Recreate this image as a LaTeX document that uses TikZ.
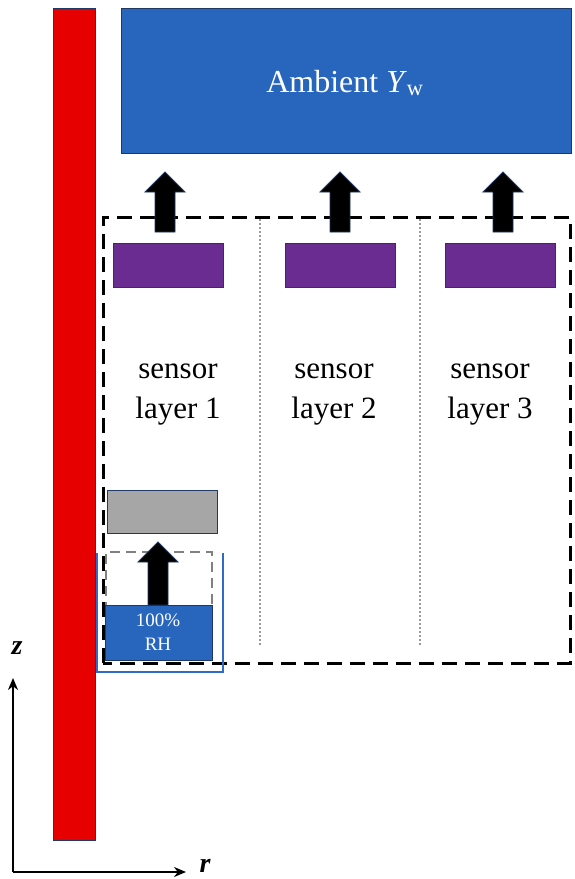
\documentclass[tikz,border=0pt]{standalone}
\usepackage{fontspec}
\setmainfont{Liberation Serif}
\usetikzlibrary{arrows.meta}
\definecolor{boxblue}{RGB}{40,102,190}
\definecolor{navy}{RGB}{31,56,100}
\definecolor{purp}{RGB}{106,44,145}
\definecolor{wallred}{RGB}{230,0,0}
\definecolor{lightgray}{RGB}{166,166,166}
\definecolor{cupblue}{RGB}{46,107,198}
\tikzset{
  blockbox/.style={draw=navy, line width=1.2pt, inner sep=0pt, minimum width=#1},
  sensorbox/.style={blockbox=110pt, fill=purp, minimum height=44pt},
  bigarrow/.style={fill=black, draw=navy, line width=0.8pt},
  bodytext/.style={font=\fontsize{31}{40}\selectfont, align=center, inner sep=0pt},
  dividerline/.style={color=gray!80, line width=2.2pt, dash pattern=on 2pt off 2pt},
}
\begin{document}
\begin{tikzpicture}[x=1pt, y=-1pt]
\useasboundingbox (0,0) rectangle (575,879);
% wall
\node[blockbox=42pt, minimum height=832pt, fill=wallred, anchor=north west] (wall) at (53,8) {};
% ambient
\node[blockbox=450pt, minimum height=145pt, fill=boxblue, anchor=north west] (ambient) at (121,8) {};
\node[font=\fontsize{32}{40}\selectfont, inner sep=0pt, text=white] (amblabel) at (345,83) {Ambient \textit{Y}\textsubscript{w}};
% big dashed region
\draw[line width=3pt, dash pattern=on 15pt off 8pt] (103,663) -- (103,217) -- (570,217) -- (570,663) -- cycle;
\draw[dividerline] (260,219) -- (260,645);
\draw[dividerline] (420,219) -- (420,645);
% sensor boxes
\node[sensorbox, anchor=north west] (s1) at (113,243) {};
\node[sensorbox, anchor=north west] (s2) at (285,243) {};
\node[sensorbox, anchor=north west] (s3) at (445,243) {};
% arrows
\foreach \cx in {165,340,503} {
  \draw[bigarrow] (\cx-10,232) -- (\cx-10,192) -- (\cx-20,192) -- (\cx,172) -- (\cx+20,192) -- (\cx+10,192) -- (\cx+10,232) -- cycle;
}
% labels
\node[bodytext] (l1) at (178,395) {sensor\\layer 1};
\node[bodytext] (l2) at (334,395) {sensor\\layer 2};
\node[bodytext] (l3) at (490,395) {sensor\\layer 3};
% gray box
\node[blockbox=110pt, minimum height=43pt, fill=lightgray, anchor=north west] (gray) at (107,490) {};
% cup
\draw[cupblue, line width=2pt] (97,553) -- (97,672) -- (223,672) -- (223,553);
\draw[gray, line width=2.5pt, dash pattern=on 10pt off 6pt] (106,660) -- (106,552) -- (212,552) -- (212,660);
\node[blockbox=107pt, minimum height=55pt, fill=boxblue, anchor=north west] (rh) at (105,605) {};
\node[font=\fontsize{19}{24}\selectfont, text=white, align=center, inner sep=0pt] (rhlabel) at (158,632) {100\%\\RH};
\draw[bigarrow] (148,605) -- (148,562) -- (138,562) -- (158,542) -- (178,562) -- (168,562) -- (168,605) -- cycle;
% axes
\coordinate (origin) at (13,872);
\coordinate (zend) at (13,678);
\coordinate (rend) at (186,872);
\draw[line width=2pt, -{Stealth[length=12pt,width=10pt]}] (origin) -- (zend);
\draw[line width=2pt, -{Stealth[length=12pt,width=10pt]}] (origin) -- (rend);
\node[font=\fontsize{28}{30}\selectfont\bfseries\itshape, inner sep=0pt] (zlab) at (17,648) {z};
\node[font=\fontsize{28}{30}\selectfont\bfseries\itshape, inner sep=0pt] (rlab) at (205,866) {r};
\end{tikzpicture}
\end{document}
